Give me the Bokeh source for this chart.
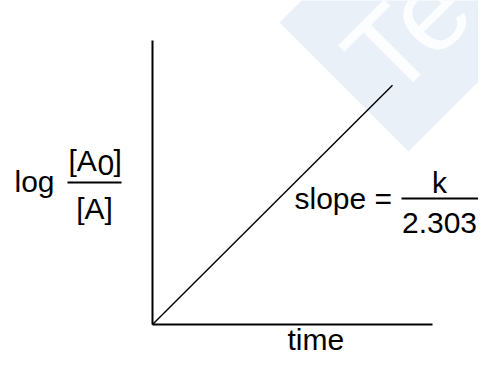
import math
from bokeh.plotting import figure
from bokeh.models import Range1d
from bokeh.core.properties import value
from bokeh.embed import file_html
from bokeh.resources import INLINE

# ---- data ----
time = [0.0, 6.0]              # time values of the first-order line
log_ratio = [0.0, 5.98]        # log([A0]/[A]) values of the line
time_axis_end = 7.0
log_axis_end = 7.1
x_label = "time"
y_label = "log"
y_num_a = "[A"
y_num_sub = "0"
y_num_b = "]"
y_den = "[A]"
slope_text = "slope ="
slope_num = "k"
slope_den = "2.303"
watermark = "Te"

FONT = value("Liberation Sans")
FS = 30
UNIT = 40.0          # pixels per data unit
OX, OY = 152, 324    # origin in picture pixels

def dx(sx):
    return (sx - OX) / UNIT

def dy(sy):
    return (OY - sy) / UNIT

W, H = 478, 357
p = figure(width=W, height=H, output_backend="svg", toolbar_location=None,
           x_range=Range1d(dx(0), dx(W)), y_range=Range1d(dy(H), dy(0)),
           min_border=0)
p.axis.visible = False
p.grid.visible = False
p.outline_line_color = None
p.background_fill_color = "white"
p.border_fill_color = "white"

# watermark diamond
Lx, Ly = 279, 22
Bx, By = 408, 151
s = 240
xs = [dx(Lx), dx(Bx), dx(Bx + s), dx(Lx + s)]
ys = [dy(Ly), dy(By), dy(By - s), dy(Ly - s)]
p.patch(xs, ys, fill_color="#E9F0F8", line_color=None)
wfs = 115
off = 0.35 * wfs / math.sqrt(2)
p.text(x=[dx(392 - off)], y=[dy(103 - off)], text=[watermark], angle=math.pi / 4,
       text_font=FONT, text_font_size=f"{wfs}px", text_color="white",
       text_alpha=0.85, text_align="left", text_baseline="middle")

# axes
p.segment(x0=[0, 0], y0=[0, 0], x1=[time_axis_end, 0], y1=[0, log_axis_end],
          line_color="black", line_width=2)
# data line
p.line(time, log_ratio, line_color="black", line_width=1.4)

def txt(sx, base, t, align="left", fs=FS):
    p.text(x=[dx(sx)], y=[dy(base - 0.35 * fs)], text=[t], text_font=FONT,
           text_font_size=f"{fs}px", text_color="black", text_align=align,
           text_baseline="middle")

def bar(x0, x1, sy):
    p.segment(x0=[dx(x0)], y0=[dy(sy)], x1=[dx(x1)], y1=[dy(sy)],
              line_color="black", line_width=2)

# y label: log [A0]/[A]
txt(14, 191, y_label)
txt(68, 170, y_num_a)
txt(97, 175, y_num_sub)
txt(113, 170, y_num_b)
bar(67, 121, 182)
txt(94, 218, y_den, "center")

# slope annotation
txt(294, 208, slope_text)
bar(401, 478, 198)
txt(439, 192, slope_num, "center")
txt(439, 233, slope_den, "center")

# x label
txt(287, 349, x_label)

open("out.html", "w").write(file_html(p, INLINE))
